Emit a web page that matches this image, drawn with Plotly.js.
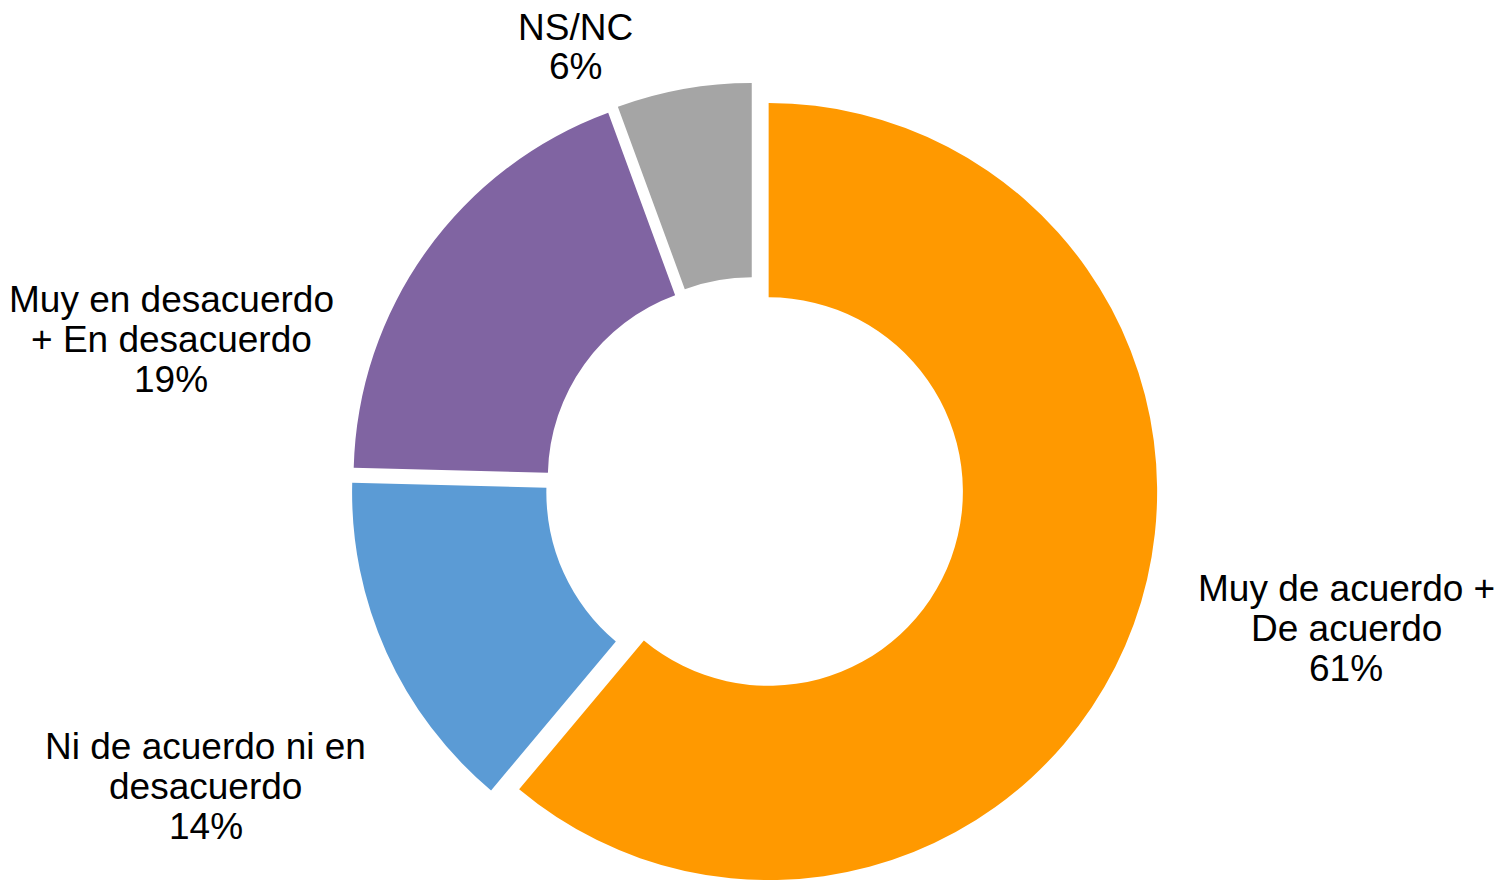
<!DOCTYPE html>
<html>
<head>
<meta charset="utf-8">
<script src="https://cdn.plot.ly/plotly-3.0.1.min.js"></script>
<style>
html, body { margin: 0; padding: 0; overflow: hidden; background: #ffffff; }
#chart { width: 1501px; height: 900px; }
</style>
</head>
<body>
<div id="chart"></div>
<script>
// ---- Data ----
var categories = [
  "Muy de acuerdo +<br>De acuerdo",
  "Ni de acuerdo ni en<br>desacuerdo",
  "Muy en desacuerdo<br>+ En desacuerdo",
  "NS/NC"
];
// shares (labels show them rounded)
var values = [61.1, 14.3, 19.0, 5.6];
var colors = ["#FF9900", "#5B9BD5", "#8064A2", "#A5A5A5"];

// ---- Layout geometry (pixels) ----
var W = 1501, H = 900;
var cx = 754.4, cy = 486.4, R = 388.5, pullFrac = 0.039;
var Rbox = R * (1 + pullFrac);
var lineGap = 40;
var fontSize = 37;
// label block centres (pixels)
var labelPos = [[1346, 628], [206, 786], [171, 339], [575, 47]];

var total = values.reduce(function (a, b) { return a + b; }, 0);

var trace = {
  type: "pie",
  labels: categories,
  values: values,
  sort: false,
  direction: "clockwise",
  rotation: 0,
  hole: 0.5,
  pull: values.map(function () { return pullFrac; }),
  marker: { colors: colors, line: { width: 0 } },
  textinfo: "none",
  hoverinfo: "label+percent",
  showlegend: false,
  domain: {
    x: [(cx - Rbox - 20) / W, (cx + Rbox + 20) / W],
    y: [1 - (cy + Rbox) / H, 1 - (cy - Rbox) / H]
  }
};

var annotations = [];
categories.forEach(function (cat, i) {
  var pct = Math.round(values[i] / total * 100) + "%";
  var lines = cat.split("<br>").concat([pct]);
  var n = lines.length;
  lines.forEach(function (ln, j) {
    var py = labelPos[i][1] + (j - (n - 1) / 2) * lineGap;
    annotations.push({
      text: ln,
      xref: "paper", yref: "paper",
      x: labelPos[i][0] / W,
      y: 1 - py / H,
      xanchor: "center", yanchor: "middle",
      showarrow: false,
      font: { family: "Liberation Sans, Arial, sans-serif", size: fontSize, color: "#000000" }
    });
  });
});

var layout = {
  width: W, height: H,
  margin: { l: 0, r: 0, t: 0, b: 0 },
  paper_bgcolor: "#ffffff",
  plot_bgcolor: "#ffffff",
  font: { family: "Liberation Sans, Arial, sans-serif", color: "#000000" },
  showlegend: false,
  annotations: annotations
};

Plotly.newPlot("chart", [trace], layout, { displayModeBar: false, staticPlot: true });
</script>
</body>
</html>
